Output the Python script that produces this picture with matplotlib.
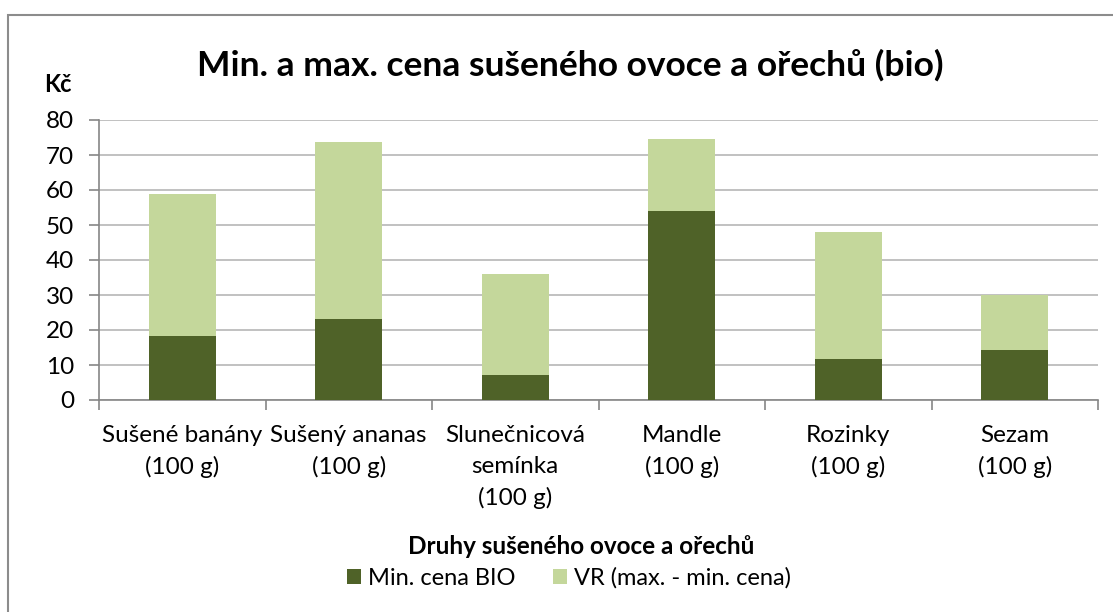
import matplotlib
matplotlib.use("Agg")
import matplotlib.pyplot as plt
import matplotlib.patches as mpatches
import numpy as np

categories = ["Sušené banány\n(100 g)", "Sušený ananas\n(100 g)", "Slunečnicová\nsemínka\n(100 g)",
              "Mandle\n(100 g)", "Rozinky\n(100 g)", "Sezam\n(100 g)"]
min_price = [18.2, 23.1, 7.1, 54.0, 11.7, 14.3]
range_vr = [40.7, 50.6, 28.9, 20.5, 36.2, 15.7]
yticks = [0, 10, 20, 30, 40, 50, 60, 70, 80]

plt.rcParams['font.family'] = ['Lato', 'DejaVu Sans']
W, H = 1113, 612
fig = plt.figure(figsize=(W / 100, H / 100), dpi=100)
ax = fig.add_axes([99 / W, 1 - 400 / H, (1098 - 99) / W, 280 / H])

x = np.arange(len(categories))
dark = "#4F6228"
light = "#C4D79B"
ax.bar(x, min_price, width=0.4, color=dark, label="Min. cena BIO", zorder=3)
ax.bar(x, range_vr, width=0.4, bottom=min_price, color=light,
       label="VR (max. - min. cena)", zorder=3)

ax.set_xlim(-0.5, len(categories) - 0.5)
ax.set_ylim(0, 80)
ax.set_yticks(yticks)
ax.yaxis.grid(True, color="#BCBCBC", linewidth=1.3, zorder=0)
ax.set_axisbelow(True)
for s in ["top", "right"]:
    ax.spines[s].set_visible(False)
for s in ["left", "bottom"]:
    ax.spines[s].set_color("#868686")
    ax.spines[s].set_linewidth(1.2)

ax.set_xticks(np.arange(-0.5, len(categories), 1.0))
ax.set_xticklabels([])
ax.set_xticks(x, minor=True)
ax.set_xticklabels(categories, minor=True, fontsize=17.5, color="#000000",
                   linespacing=1.57)
ax.tick_params(axis="x", which="minor", length=0, pad=18)
ax.tick_params(axis="x", which="major", length=7, color="#868686", width=1.2)
ax.tick_params(axis="y", length=7, color="#868686", width=1.2, labelsize=17.5, pad=11)

fig.text(570 / W, 1 - 65 / H, "Min. a max. cena sušeného ovoce a ořechů (bio)",
         ha="center", va="center", fontsize=25.5, fontweight="bold")
fig.text(58 / W, 1 - 84 / H, "Kč", ha="center", va="center", fontsize=17, fontweight="bold")
fig.text(581 / W, 1 - 547 / H, "Druhy sušeného ovoce a ořechů", ha="center", va="center",
         fontsize=17.5, fontweight="bold")

h, l = ax.get_legend_handles_labels()
fig.legend(h, l, loc="center", bbox_to_anchor=(569 / W, 1 - 578 / H), ncol=2,
           frameon=False, fontsize=17, handlelength=0.6, handleheight=0.6,
           handletextpad=0.3, columnspacing=1.6)

border = mpatches.Rectangle((8 / W, -0.01), 1.1, 1 - 15 / H + 0.01, transform=fig.transFigure,
                            fill=False, edgecolor="#8C8C8C", linewidth=1.5)
fig.patches.append(border)

fig.savefig("out.png", dpi=100)
